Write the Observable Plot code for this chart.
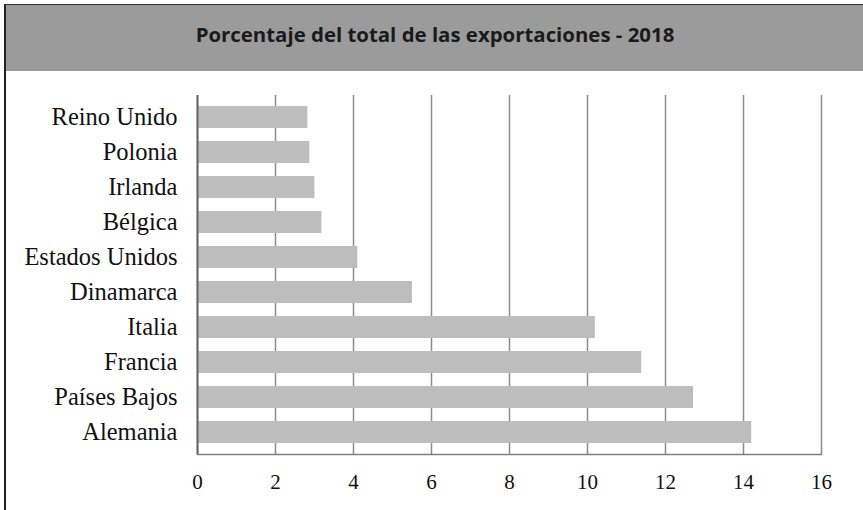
<!DOCTYPE html>
<html>
<head>
<meta charset="utf-8">
<script src="https://cdn.jsdelivr.net/npm/d3@7"></script>
<script src="https://cdn.jsdelivr.net/npm/@observablehq/plot@0.6"></script>
<style>
  html, body { margin: 0; padding: 0; background: #fff; }
  #page { position: relative; width: 863px; height: 510px; overflow: hidden; background: #fff; }
  #header { position: absolute; left: 6px; top: 5px; width: 857px; height: 66px; background: #9b9b9b; }
  #title { position: absolute; left: 0; width: 870px; top: 22px; text-align: center;
           font-family: "Open Sans", sans-serif; font-weight: bold; font-size: 20.4px; line-height: 24px; color: #1a1a1a; }
  #chart { position: absolute; left: 0; top: 71px; }
  #frameline { position: absolute; left: 4px; top: 4px; width: 859px; height: 506px;
               border-left: 2px solid #222; border-top: 1px solid #333; box-sizing: border-box; pointer-events: none; z-index: 5; }
</style>
</head>
<body>
<div id="page">
  <div id="header"></div>
  <div id="title">Porcentaje del total de las exportaciones - 2018</div>
  <div id="chart"></div>
  <div id="frameline"></div>
</div>
<script>
const countries = ["Reino Unido", "Polonia", "Irlanda", "Bélgica", "Estados Unidos", "Dinamarca", "Italia", "Francia", "Países Bajos", "Alemania"];
const shares = [2.83, 2.88, 3.01, 3.19, 4.11, 5.51, 10.2, 11.39, 12.72, 14.21];
const xTicks = [0, 2, 4, 6, 8, 10, 12, 14, 16];

const data = countries.map((c, i) => ({country: c, value: shares[i]}));

const chart = Plot.plot({
  width: 863,
  height: 439,
  marginLeft: 197,
  marginRight: 42,
  marginTop: 24,
  marginBottom: 56,
  style: {background: "transparent"},
  x: {domain: [0, 16]},
  y: {domain: countries, paddingInner: 0.37, paddingOuter: 0.185},
  marks: [
    Plot.ruleX(xTicks, {stroke: "#8c8c8c", strokeWidth: 1.5, strokeOpacity: 1}),
    Plot.barX(data, {x: "value", y: "country", fill: "#bdbdbd"}),
    Plot.ruleX([0], {stroke: "#666", strokeWidth: 2}),
    Plot.frame({anchor: "bottom", stroke: "#7f7f7f", strokeWidth: 1.5}),
    Plot.axisY({tickSize: 0, tickPadding: 20, fontSize: 24.5, fontFamily: "Liberation Serif", fill: "#111", label: null}),
    Plot.axisX({ticks: xTicks, tickSize: 0, tickPadding: 20, fontSize: 21, fontFamily: "Liberation Serif", fill: "#111", label: null})
  ]
});
document.getElementById("chart").appendChild(chart);
</script>
</body>
</html>
